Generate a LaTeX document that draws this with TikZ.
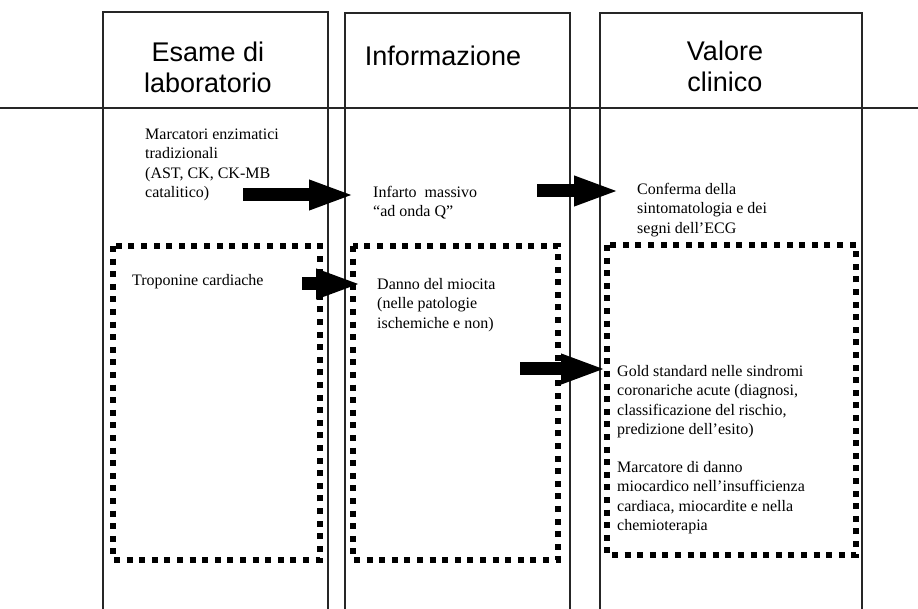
\documentclass[tikz,border=0pt]{standalone}
\usepackage{fontspec}
\setmainfont{Liberation Serif}
\newfontfamily\headfont{Liberation Sans}
\usetikzlibrary{arrows.meta}

\tikzstyle{frame} = [draw=black!85,line width=1.1pt]
\tikzstyle{dotbox} = [draw,line width=5.5pt,dash pattern=on 6pt off 6.6pt]
\tikzstyle{head} = [align=center,inner sep=0,anchor=base,font=\headfont\fontsize{27}{31}\selectfont]
\tikzstyle{info} = [align=left,inner sep=0,anchor=base west,font=\fontsize{16}{19.4}\selectfont]
\tikzstyle{bigarrow} = [line width=13pt,-{Triangle[length=46pt,width=27pt]},shorten >=#1]

\begin{document}
\begin{tikzpicture}[x=1pt,y=-1pt]
\useasboundingbox (0,0) rectangle (918,609);

% columns
\draw[frame] (103,609) |- (328,12) -- (328,609);
\draw[frame] (345,609) |- (570,13) -- (570,609);
\draw[frame] (600,609) |- (862,13) -- (862,609);
\draw[frame] (0,108) -- (918,108);

% base = last line
\node[head] (esame) at (208,93) {Esame di\\laboratorio};
\node[head] (informazione) at (443,66) {Informazione};
\node[head] (valore) at (725,92) {Valore\\clinico};

% dotted boxes
\draw[dotbox] (113,246) rectangle (320,560);
\draw[dotbox] (353,246) rectangle (558,560);
\draw[dotbox] (607,245) rectangle (856,555);

\node[info] (marcatori) at (145,197.7) {Marcatori enzimatici\\tradizionali\\(AST, CK, CK-MB\\catalitico)};
\node[info] (infarto) at (373,216.9) {Infarto\ \ massivo\\``ad onda Q''};
\node[info] (conferma) at (637,233.3) {Conferma della\\sintomatologia e dei\\segni dell'ECG};
\node[info] (troponine) at (132,285.5) {Troponine cardiache};
\node[info] (danno) at (377,328.3) {Danno del miocita\\(nelle patologie\\ischemiche e non)};
\node[info] (gold) at (617,434.7) {Gold standard nelle sindromi\\coronariche acute (diagnosi,\\classificazione del rischio,\\predizione dell'esito)};
\node[info] (danni) at (617,530.7) {Marcatore di danno\\miocardico nell'insufficienza\\cardiaca, miocardite e nella\\chemioterapia};

% arrows
\coordinate (a1) at (243,195);
\coordinate (a2) at (537,191);
\coordinate (a3) at (302,284);
\coordinate (a4) at (520,369);
\draw[bigarrow=18pt] (a1) -- (a1 -| infarto.west);
\draw[bigarrow=17pt] (a2) -- (a2 -| conferma.west);
\draw[bigarrow=15pt] (a3) -- (a3 -| danno.west);
\draw[bigarrow=10pt] (a4) -- (a4 -| gold.west);

\end{tikzpicture}
\end{document}
